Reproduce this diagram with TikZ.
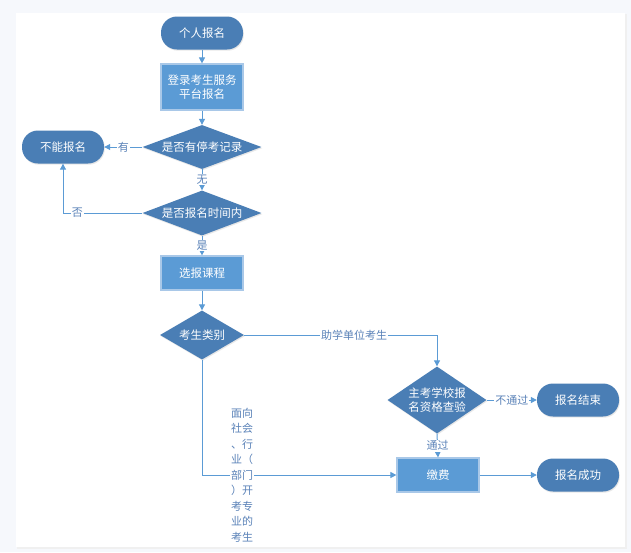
\documentclass[tikz,border=0pt]{standalone}
\usepackage{fontspec}
\setmainfont{Noto Sans CJK SC}
\usetikzlibrary{shapes.geometric,arrows.meta,shadows}
\definecolor{darkfill}{HTML}{4A7EB5}
\definecolor{lightfill}{HTML}{5B9BD5}
\definecolor{rectborder}{HTML}{A9C8E8}
\definecolor{linec}{HTML}{5B9BD5}
\definecolor{labelc}{HTML}{5A82B8}
\definecolor{pagebg}{HTML}{F6F8FC}
\tikzset{
  base/.style={text=white, font=\fontsize{11.5}{14}\selectfont, align=center, inner sep=0pt,
    drop shadow={shadow xshift=0.8pt, shadow yshift=-1.2pt, fill=black!18}},
  term/.style={base, fill=darkfill, rectangle, rounded corners=16pt, minimum width=82pt, minimum height=33pt},
  proc/.style={base, fill=lightfill, draw=rectborder, line width=1.2pt, rectangle, minimum width=82pt},
  deci/.style={base, fill=darkfill, diamond, aspect=2.5},
  dtext/.style={text=white, font=\fontsize{11.5}{14}\selectfont, align=center, inner sep=0pt},
  conn/.style={draw=linec, line width=1pt, -{Triangle[width=6pt,length=6pt]}},
  lbl/.style={text=labelc, fill=white, inner sep=1pt, font=\fontsize{11}{14}\selectfont}
}
\begin{document}
\begin{tikzpicture}[x=1pt,y=-1pt]
\useasboundingbox (0,0) rectangle (631,552);
\fill[pagebg] (0,0) rectangle (631,552);
\fill[black!6] (17,14) rectangle (627,549);
\fill[white] (16,13) rectangle (625,547);

\node[term] (start) at (202,33) {个人报名};
\node[proc, minimum height=46pt] (login) at (202,87) {登录考生服务\\平台报名};
\node[deci, minimum width=119pt, minimum height=44pt] (d1) at (202,147) {};
\node[dtext] (d1t) at (d1.center) {是否有停考记录};
\node[term] (no) at (63,147) {不能报名};
\node[deci, minimum width=119pt, minimum height=45pt] (d2) at (202,213) {};
\node[dtext] (d2t) at (d2.center) {是否报名时间内};
\node[proc, minimum height=34pt] (course) at (202,273) {选报课程};
\node[deci, minimum width=84pt, minimum height=49pt] (d3) at (202,335) {};
\node[dtext] (d3t) at (d3.center) {考生类别};
\node[deci, minimum width=99pt, minimum height=67pt] (d4) at (437,400) {};
\node[dtext] (d4t) at (d4.center) {主考学校报\\名资格查验};
\node[term] (end) at (578,400) {报名结束};
\node[proc, minimum height=34pt] (pay) at (438,475) {缴费};
\node[term] (ok) at (578,475) {报名成功};

\coordinate (c1) at (63,213);
\coordinate (c2) at (437,335);
\coordinate (c3) at (202,475);

\draw[conn] (start) -- (login);
\draw[conn] (login) -- (d1);
\draw[conn] (d1.west) -- node[lbl] {有} (no.east);
\draw[conn] (d1.south) -- node[lbl] {无} (d2.north);
\draw[conn] (d2.west) -- node[lbl, pos=0.82] {否} (c1) -- (no.south);
\draw[conn] (d2.south) -- node[lbl] {是} (course.north);
\draw[conn] (course) -- (d3.north);
\draw[conn] (d3.east) -- node[lbl, pos=0.57] {助学单位考生} (c2) -- (d4.north);
\draw[conn] (d3.south) -- (c3) -- node[lbl, pos=0.206, align=center, font=\fontsize{11}{15.5}\selectfont]
  {面向\\社会\\、行\\业（\\部门\\）开\\考专\\业的\\考生} (pay.west);
\draw[conn] (d4.east) -- node[lbl] {不通过} (end.west);
\draw[conn] (d4.south) -- node[lbl] {通过} (pay.north);
\draw[conn] (pay.east) -- (ok.west);
\end{tikzpicture}
\end{document}
